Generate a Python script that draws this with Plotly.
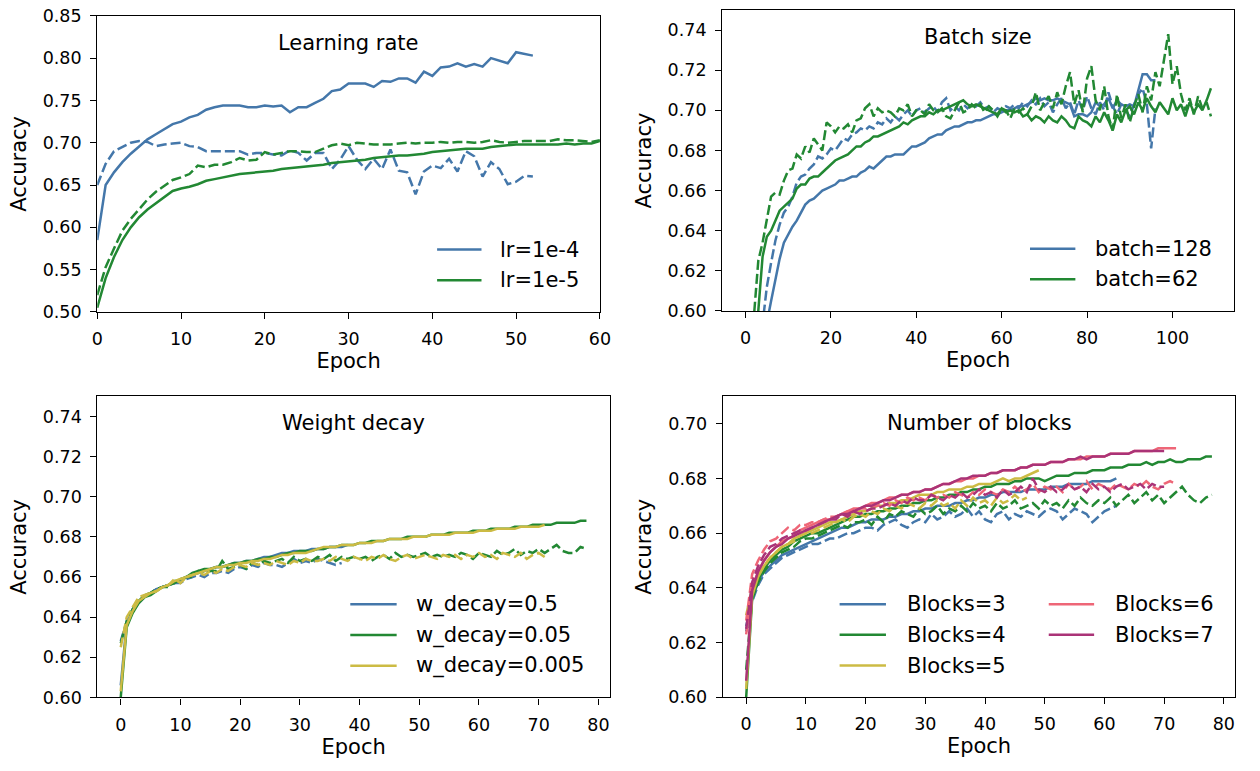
import plotly.graph_objects as go

# ---------------- colours (Paul Tol "bright") ----------------
BLUE, GREEN, YELLOW, PINK, PURPLE = "#4477AA", "#228833", "#CCBB44", "#EE6677", "#AA3377"

# ---------------- Learning rate panel ----------------
lr_names = ["lr=1e-4", "lr=1e-5"]
lr_xticks = [0, 10, 20, 30, 40, 50, 60]
lr_yticks = [0.50, 0.55, 0.60, 0.65, 0.70, 0.75, 0.80, 0.85]
lr4_train = [0.585, 0.650, 0.665, 0.677, 0.687, 0.696, 0.704, 0.710, 0.716, 0.722,
             0.725, 0.730, 0.733, 0.739, 0.742, 0.744, 0.744, 0.744, 0.742, 0.742,
             0.744, 0.743, 0.744, 0.736, 0.742, 0.742, 0.747, 0.752, 0.761, 0.763,
             0.770, 0.770, 0.770, 0.766, 0.773, 0.772, 0.776, 0.776, 0.771, 0.784,
             0.779, 0.789, 0.790, 0.794, 0.790, 0.793, 0.790, 0.800, 0.797, 0.794,
             0.807, 0.805, 0.803]
lr4_val = [0.650, 0.675, 0.690, 0.695, 0.700, 0.702, 0.701, 0.696, 0.698, 0.699,
           0.700, 0.696, 0.695, 0.690, 0.690, 0.690, 0.690, 0.690, 0.686, 0.688,
           0.688, 0.686, 0.685, 0.691, 0.688, 0.679, 0.688, 0.688, 0.669, 0.680,
           0.696, 0.680, 0.669, 0.681, 0.669, 0.692, 0.667, 0.665, 0.639, 0.666,
           0.673, 0.670, 0.681, 0.666, 0.690, 0.684, 0.660, 0.677, 0.669, 0.651,
           0.654, 0.661, 0.660]
lr5_train = [0.505, 0.540, 0.565, 0.585, 0.600, 0.612, 0.621, 0.628, 0.636, 0.643,
             0.646, 0.648, 0.651, 0.655, 0.657, 0.659, 0.661, 0.663, 0.664, 0.665,
             0.666, 0.667, 0.669, 0.670, 0.671, 0.672, 0.673, 0.674, 0.676, 0.677,
             0.678, 0.679, 0.680, 0.682, 0.683, 0.684, 0.685, 0.685, 0.686, 0.687,
             0.689, 0.690, 0.691, 0.692, 0.693, 0.693, 0.693, 0.695, 0.696, 0.697,
             0.698, 0.698, 0.698, 0.698, 0.698, 0.698, 0.699, 0.698, 0.699, 0.699,
             0.702]
lr5_val = [0.520, 0.553, 0.575, 0.596, 0.610, 0.622, 0.633, 0.642, 0.649, 0.656,
           0.659, 0.663, 0.673, 0.671, 0.674, 0.674, 0.677, 0.682, 0.679, 0.680,
           0.689, 0.686, 0.688, 0.690, 0.690, 0.689, 0.689, 0.693, 0.697, 0.699,
           0.697, 0.700, 0.699, 0.698, 0.698, 0.698, 0.699, 0.700, 0.699, 0.700,
           0.700, 0.701, 0.700, 0.701, 0.701, 0.700, 0.701, 0.703, 0.701, 0.700,
           0.701, 0.702, 0.702, 0.702, 0.702, 0.704, 0.703, 0.703, 0.702, 0.701,
           0.703]

# ---------------- Batch size panel ----------------
batch_names = ["batch=128", "batch=62"]
batch_xticks = [0, 20, 40, 60, 80, 100]
batch_yticks = [0.60, 0.62, 0.64, 0.66, 0.68, 0.70, 0.72, 0.74]
b128_train = [0.450, 0.490, 0.520, 0.550, 0.575, 0.594, 0.605, 0.616, 0.626, 0.634,
              0.638, 0.642, 0.645, 0.649, 0.653, 0.655, 0.656, 0.658, 0.660, 0.661,
              0.662, 0.663, 0.665, 0.665, 0.666, 0.667, 0.667, 0.669, 0.670, 0.672,
              0.671, 0.673, 0.675, 0.677, 0.677, 0.678, 0.678, 0.678, 0.680, 0.682,
              0.682, 0.683, 0.684, 0.686, 0.687, 0.688, 0.688, 0.690, 0.691, 0.692,
              0.692, 0.693, 0.694, 0.694, 0.695, 0.695, 0.696, 0.697, 0.698, 0.698,
              0.699, 0.700, 0.700, 0.701, 0.702, 0.702, 0.703, 0.704, 0.706, 0.705,
              0.706, 0.705, 0.705, 0.706, 0.705, 0.704, 0.703, 0.697, 0.698, 0.698,
              0.697, 0.699, 0.704, 0.702, 0.703, 0.706, 0.701, 0.705, 0.703, 0.702,
              0.703, 0.702, 0.710, 0.718, 0.718, 0.715, 0.715]
b128_val = [0.480, 0.520, 0.550, 0.575, 0.595, 0.612, 0.624, 0.635, 0.643, 0.649,
            0.652, 0.657, 0.664, 0.667, 0.668, 0.671, 0.673, 0.677, 0.676, 0.678,
            0.681, 0.680, 0.683, 0.686, 0.685, 0.688, 0.689, 0.691, 0.690, 0.692,
            0.691, 0.694, 0.693, 0.696, 0.694, 0.697, 0.695, 0.698, 0.700, 0.697,
            0.700, 0.701, 0.699, 0.701, 0.702, 0.699, 0.704, 0.706, 0.700, 0.702,
            0.700, 0.703, 0.701, 0.703, 0.702, 0.704, 0.701, 0.702, 0.699, 0.701,
            0.700, 0.702, 0.701, 0.703, 0.701, 0.704, 0.702, 0.705, 0.703, 0.706,
            0.702, 0.704, 0.699, 0.703, 0.706, 0.701, 0.704, 0.698, 0.705, 0.700,
            0.707, 0.701, 0.698, 0.704, 0.700, 0.709, 0.702, 0.698, 0.703, 0.700,
            0.697, 0.703, 0.708, 0.711, 0.703, 0.681, 0.701]
b62_train = [0.500, 0.540, 0.575, 0.600, 0.627, 0.637, 0.640, 0.645, 0.650, 0.652,
             0.654, 0.656, 0.661, 0.663, 0.663, 0.666, 0.667, 0.667, 0.669, 0.671,
             0.673, 0.675, 0.676, 0.677, 0.678, 0.680, 0.682, 0.682, 0.684, 0.685,
             0.687, 0.687, 0.688, 0.689, 0.690, 0.691, 0.692, 0.694, 0.693, 0.695,
             0.696, 0.697, 0.697, 0.699, 0.698, 0.700, 0.700, 0.701, 0.702, 0.703,
             0.704, 0.705, 0.703, 0.702, 0.703, 0.702, 0.701, 0.700, 0.699, 0.698,
             0.701, 0.699, 0.700, 0.699, 0.700, 0.697, 0.698, 0.695, 0.697, 0.696,
             0.694, 0.697, 0.695, 0.694, 0.697, 0.695, 0.692, 0.691, 0.697, 0.695,
             0.694, 0.692, 0.697, 0.694, 0.699, 0.695, 0.690, 0.698, 0.694, 0.700,
             0.702, 0.698, 0.704, 0.700, 0.706, 0.702, 0.699, 0.704, 0.701, 0.698,
             0.706, 0.700, 0.703, 0.697, 0.704, 0.699, 0.703, 0.700, 0.705, 0.711]
b62_val = [0.530, 0.570, 0.598, 0.625, 0.634, 0.645, 0.657, 0.659, 0.658, 0.665,
           0.670, 0.671, 0.678, 0.676, 0.682, 0.679, 0.686, 0.683, 0.680, 0.694,
           0.692, 0.689, 0.692, 0.691, 0.693, 0.689, 0.695, 0.696, 0.701, 0.703,
           0.697, 0.701, 0.699, 0.700, 0.699, 0.697, 0.701, 0.700, 0.703, 0.697,
           0.700, 0.700, 0.698, 0.703, 0.700, 0.699, 0.701, 0.697, 0.696, 0.700,
           0.704, 0.699, 0.700, 0.703, 0.701, 0.703, 0.699, 0.702, 0.700, 0.697,
           0.701, 0.700, 0.696, 0.701, 0.699, 0.701, 0.698, 0.702, 0.709, 0.700,
           0.704, 0.707, 0.701, 0.709, 0.703, 0.712, 0.719, 0.703, 0.710, 0.699,
           0.716, 0.722, 0.705, 0.700, 0.712, 0.697, 0.690, 0.708, 0.696, 0.703,
           0.694, 0.702, 0.708, 0.699, 0.712, 0.705, 0.719, 0.712, 0.725, 0.738,
           0.713, 0.722, 0.708, 0.700, 0.706, 0.698, 0.707, 0.701, 0.704, 0.697]

# ---------------- Weight decay panel ----------------
wd_names = ["w_decay=0.5", "w_decay=0.05", "w_decay=0.005"]
wd_xticks = [0, 10, 20, 30, 40, 50, 60, 70, 80]
wd_yticks = [0.60, 0.62, 0.64, 0.66, 0.68, 0.70, 0.72, 0.74]
wd05_train = [0.606, 0.637, 0.643, 0.647, 0.650, 0.652, 0.654, 0.655, 0.656, 0.657,
              0.658, 0.660, 0.661, 0.662, 0.663, 0.664, 0.665, 0.665, 0.666, 0.667,
              0.667, 0.668, 0.668, 0.669, 0.670, 0.670, 0.671, 0.672, 0.672, 0.673,
              0.673, 0.673, 0.674, 0.674, 0.674, 0.675, 0.675, 0.675, 0.676]
wd05_val = [0.628, 0.638, 0.644, 0.648, 0.650, 0.652, 0.654, 0.655, 0.656, 0.657,
            0.657, 0.659, 0.660, 0.661, 0.660, 0.662, 0.662, 0.663, 0.662, 0.664,
            0.665, 0.664, 0.666, 0.665, 0.667, 0.666, 0.666, 0.665, 0.667, 0.669,
            0.667, 0.668, 0.667, 0.669, 0.668, 0.667, 0.666, 0.667]
wd005_train = [0.600, 0.635, 0.642, 0.647, 0.650, 0.651, 0.653, 0.655, 0.656, 0.657,
               0.659, 0.660, 0.662, 0.663, 0.664, 0.664, 0.665, 0.665, 0.666, 0.667,
               0.667, 0.668, 0.668, 0.669, 0.669, 0.670, 0.670, 0.671, 0.672, 0.672,
               0.673, 0.673, 0.673, 0.674, 0.674, 0.675, 0.675, 0.676, 0.676, 0.676,
               0.677, 0.677, 0.678, 0.678, 0.678, 0.679, 0.679, 0.679, 0.680, 0.680,
               0.680, 0.680, 0.681, 0.681, 0.681, 0.682, 0.682, 0.682, 0.682, 0.683,
               0.683, 0.683, 0.684, 0.684, 0.684, 0.684, 0.685, 0.685, 0.685, 0.686,
               0.686, 0.686, 0.686, 0.687, 0.687, 0.687, 0.687, 0.688, 0.688]
wd005_val = [0.627, 0.638, 0.644, 0.648, 0.651, 0.652, 0.654, 0.655, 0.655, 0.658,
             0.658, 0.660, 0.660, 0.663, 0.662, 0.663, 0.663, 0.668, 0.664, 0.665,
             0.666, 0.664, 0.667, 0.666, 0.668, 0.667, 0.668, 0.669, 0.667, 0.670,
             0.668, 0.669, 0.668, 0.670, 0.669, 0.671, 0.668, 0.670, 0.669, 0.670,
             0.669, 0.670, 0.668, 0.670, 0.671, 0.669, 0.672, 0.670, 0.671, 0.670,
             0.671, 0.672, 0.670, 0.671, 0.670, 0.671, 0.670, 0.672, 0.671, 0.669,
             0.672, 0.671, 0.670, 0.673, 0.671, 0.672, 0.674, 0.671, 0.673, 0.672,
             0.674, 0.672, 0.674, 0.676, 0.673, 0.672, 0.672, 0.675, 0.674]
wd0005_train = [0.603, 0.636, 0.643, 0.648, 0.650, 0.652, 0.653, 0.655, 0.656, 0.658,
                0.659, 0.660, 0.661, 0.662, 0.663, 0.664, 0.665, 0.665, 0.666, 0.666,
                0.667, 0.667, 0.668, 0.668, 0.669, 0.669, 0.670, 0.671, 0.671, 0.672,
                0.672, 0.672, 0.673, 0.674, 0.675, 0.675, 0.675, 0.676, 0.676, 0.676,
                0.677, 0.677, 0.677, 0.678, 0.678, 0.679, 0.679, 0.679, 0.679, 0.680,
                0.680, 0.680, 0.681, 0.681, 0.681, 0.681, 0.682, 0.682, 0.682, 0.682,
                0.683, 0.683, 0.683, 0.684, 0.684, 0.684, 0.684, 0.685, 0.685, 0.685,
                0.685, 0.686]
wd0005_val = [0.625, 0.640, 0.645, 0.650, 0.651, 0.652, 0.653, 0.655, 0.656, 0.659,
              0.657, 0.660, 0.661, 0.662, 0.661, 0.663, 0.662, 0.664, 0.663, 0.665,
              0.666, 0.665, 0.667, 0.666, 0.667, 0.666, 0.668, 0.667, 0.666, 0.668,
              0.667, 0.669, 0.668, 0.668, 0.669, 0.668, 0.670, 0.669, 0.668, 0.670,
              0.669, 0.668, 0.670, 0.669, 0.671, 0.669, 0.668, 0.670, 0.671, 0.669,
              0.670, 0.671, 0.670, 0.669, 0.671, 0.670, 0.671, 0.669, 0.671, 0.670,
              0.672, 0.670, 0.671, 0.669, 0.672, 0.671, 0.670, 0.672, 0.669, 0.671,
              0.672, 0.670]

# ---------------- Number of blocks panel ----------------
blk_names = ["Blocks=3", "Blocks=4", "Blocks=5", "Blocks=6", "Blocks=7"]
blk_xticks = [0, 10, 20, 30, 40, 50, 60, 70, 80]
blk_yticks = [0.60, 0.62, 0.64, 0.66, 0.68, 0.70]
blk3_train = [0.624, 0.636, 0.642, 0.646, 0.648, 0.650, 0.652, 0.653, 0.654, 0.655,
              0.656, 0.657, 0.658, 0.659, 0.660, 0.661, 0.662, 0.662, 0.663, 0.664,
              0.664, 0.665, 0.665, 0.665, 0.666, 0.666, 0.667, 0.667, 0.668, 0.668,
              0.669, 0.669, 0.670, 0.670, 0.670, 0.671, 0.671, 0.672, 0.672, 0.673,
              0.673, 0.674, 0.674, 0.675, 0.675, 0.675, 0.675, 0.676, 0.676, 0.676,
              0.676, 0.677, 0.677, 0.677, 0.678, 0.678, 0.678, 0.678, 0.679, 0.679,
              0.679, 0.679, 0.680]
blk3_val = [0.626, 0.635, 0.641, 0.645, 0.647, 0.649, 0.651, 0.652, 0.653, 0.654,
            0.655, 0.656, 0.656, 0.657, 0.658, 0.658, 0.659, 0.660, 0.660, 0.661,
            0.662, 0.662, 0.661, 0.663, 0.664, 0.665, 0.663, 0.662, 0.664, 0.665,
            0.664, 0.667, 0.665, 0.666, 0.668, 0.666, 0.667, 0.669, 0.666, 0.668,
            0.665, 0.664, 0.667, 0.668, 0.665, 0.667, 0.666, 0.668, 0.667, 0.666,
            0.668, 0.669, 0.668, 0.665, 0.667, 0.669, 0.668, 0.667, 0.664, 0.666,
            0.668, 0.669, 0.670]
blk4_train = [0.600, 0.636, 0.643, 0.647, 0.650, 0.652, 0.654, 0.655, 0.657, 0.658,
              0.659, 0.660, 0.660, 0.661, 0.662, 0.663, 0.664, 0.665, 0.666, 0.666,
              0.667, 0.667, 0.668, 0.668, 0.669, 0.669, 0.670, 0.670, 0.671, 0.671,
              0.672, 0.672, 0.673, 0.673, 0.674, 0.674, 0.675, 0.675, 0.676, 0.676,
              0.677, 0.677, 0.678, 0.678, 0.678, 0.679, 0.679, 0.680, 0.680, 0.680,
              0.679, 0.680, 0.681, 0.681, 0.681, 0.682, 0.682, 0.682, 0.683, 0.683,
              0.683, 0.684, 0.684, 0.684, 0.685, 0.685, 0.685, 0.686, 0.685, 0.686,
              0.686, 0.687, 0.686, 0.686, 0.687, 0.687, 0.687, 0.688, 0.688]
blk4_val = [0.610, 0.636, 0.642, 0.646, 0.649, 0.651, 0.653, 0.654, 0.655, 0.657,
            0.658, 0.658, 0.659, 0.660, 0.661, 0.662, 0.663, 0.662, 0.664, 0.664,
            0.665, 0.663, 0.666, 0.664, 0.667, 0.666, 0.668, 0.667, 0.666, 0.669,
            0.667, 0.668, 0.670, 0.667, 0.669, 0.668, 0.670, 0.668, 0.671, 0.669,
            0.670, 0.668, 0.671, 0.669, 0.670, 0.672, 0.669, 0.670, 0.671, 0.669,
            0.672, 0.670, 0.671, 0.669, 0.672, 0.670, 0.673, 0.671, 0.670, 0.672,
            0.671, 0.673, 0.670, 0.672, 0.674, 0.671, 0.673, 0.675, 0.672, 0.674,
            0.671, 0.673, 0.675, 0.677, 0.674, 0.672, 0.671, 0.673, 0.674]
blk5_train = [0.603, 0.637, 0.644, 0.648, 0.651, 0.653, 0.655, 0.656, 0.658, 0.659,
              0.660, 0.661, 0.662, 0.663, 0.664, 0.664, 0.665, 0.666, 0.667, 0.668,
              0.668, 0.669, 0.670, 0.670, 0.671, 0.671, 0.672, 0.672, 0.673, 0.674,
              0.674, 0.674, 0.675, 0.675, 0.676, 0.676, 0.676, 0.677, 0.677, 0.678,
              0.678, 0.678, 0.679, 0.680, 0.679, 0.680, 0.680, 0.681, 0.682, 0.683]
blk5_val = [0.630, 0.640, 0.645, 0.648, 0.651, 0.653, 0.655, 0.656, 0.657, 0.659,
            0.660, 0.660, 0.661, 0.662, 0.663, 0.664, 0.665, 0.664, 0.666, 0.667,
            0.666, 0.668, 0.667, 0.669, 0.668, 0.670, 0.669, 0.671, 0.670, 0.669,
            0.671, 0.670, 0.672, 0.670, 0.671, 0.669, 0.672, 0.670, 0.673, 0.671,
            0.672, 0.670, 0.673, 0.671, 0.672, 0.674, 0.672, 0.673]
blk6_train = [0.623, 0.640, 0.646, 0.650, 0.653, 0.655, 0.657, 0.658, 0.659, 0.661,
              0.662, 0.663, 0.664, 0.665, 0.665, 0.666, 0.667, 0.668, 0.669, 0.669,
              0.670, 0.671, 0.671, 0.672, 0.673, 0.673, 0.674, 0.674, 0.675, 0.675,
              0.676, 0.676, 0.677, 0.678, 0.678, 0.679, 0.679, 0.680, 0.680, 0.681,
              0.681, 0.682, 0.682, 0.683, 0.683, 0.683, 0.684, 0.684, 0.685, 0.685,
              0.685, 0.686, 0.686, 0.686, 0.687, 0.687, 0.687, 0.688, 0.688, 0.688,
              0.688, 0.689, 0.689, 0.689, 0.689, 0.690, 0.690, 0.690, 0.690, 0.691,
              0.691, 0.691, 0.691]
blk6_val = [0.628, 0.645, 0.650, 0.654, 0.657, 0.658, 0.660, 0.662, 0.661, 0.663,
            0.663, 0.664, 0.664, 0.665, 0.666, 0.666, 0.667, 0.668, 0.668, 0.669,
            0.669, 0.670, 0.670, 0.671, 0.670, 0.672, 0.671, 0.673, 0.672, 0.673,
            0.672, 0.674, 0.673, 0.674, 0.673, 0.675, 0.674, 0.673, 0.675, 0.674,
            0.676, 0.675, 0.674, 0.676, 0.675, 0.677, 0.675, 0.676, 0.678, 0.675,
            0.677, 0.676, 0.677, 0.675, 0.678, 0.676, 0.677, 0.679, 0.676, 0.678,
            0.677, 0.676, 0.678, 0.677, 0.676, 0.678, 0.677, 0.679, 0.677, 0.676,
            0.678, 0.679, 0.678]
blk7_train = [0.606, 0.639, 0.646, 0.650, 0.653, 0.655, 0.656, 0.658, 0.659, 0.660,
              0.661, 0.662, 0.663, 0.664, 0.665, 0.666, 0.667, 0.667, 0.668, 0.669,
              0.670, 0.670, 0.671, 0.672, 0.672, 0.673, 0.674, 0.674, 0.675, 0.675,
              0.676, 0.676, 0.677, 0.678, 0.678, 0.679, 0.680, 0.680, 0.681, 0.681,
              0.681, 0.682, 0.682, 0.683, 0.683, 0.683, 0.684, 0.684, 0.685, 0.685,
              0.685, 0.686, 0.686, 0.686, 0.687, 0.687, 0.688, 0.687, 0.688, 0.688,
              0.688, 0.689, 0.689, 0.689, 0.689, 0.690, 0.690, 0.690, 0.690, 0.690,
              0.690]
blk7_val = [0.625, 0.642, 0.648, 0.652, 0.655, 0.656, 0.658, 0.659, 0.660, 0.661,
            0.661, 0.662, 0.663, 0.664, 0.665, 0.665, 0.667, 0.666, 0.668, 0.667,
            0.668, 0.669, 0.669, 0.670, 0.671, 0.670, 0.672, 0.671, 0.673, 0.672,
            0.672, 0.674, 0.673, 0.672, 0.674, 0.673, 0.675, 0.673, 0.674, 0.676,
            0.674, 0.675, 0.673, 0.676, 0.674, 0.675, 0.677, 0.675, 0.680, 0.676,
            0.675, 0.677, 0.675, 0.676, 0.678, 0.676, 0.677, 0.675, 0.678, 0.676,
            0.677, 0.675, 0.677, 0.678, 0.676, 0.677, 0.678, 0.676, 0.678, 0.677,
            0.677]

# ---------------- panel definitions ----------------
W, H = 1260, 771
FONT = "DejaVu Sans"
TICK_SIZE = 17.5
LABEL_SIZE = 21
LW = 2.5
DASH = "10px,4px"

panels = [
    dict(title="Learning rate", px=(92.5, 602), py=(6, 310), xr=[0, 60], yr=[0.5, 0.85],
         xt=lr_xticks, yt=lr_yticks,
         series=[(lr4_train, lr4_val, BLUE), (lr5_train, lr5_val, GREEN)],
         legend=[[(lr_names[0], BLUE), (lr_names[1], GREEN)]],
         leg_cols=[(437, 482, 499)]),
    dict(title="Batch size", px=(726, 1245), py=(0, 309), xr=[-5.45, 114.45], yr=[0.6, 0.75],
         xt=batch_xticks, yt=batch_yticks,
         series=[(b128_train, b128_val, BLUE), (b62_train, b62_val, GREEN)],
         legend=[[(batch_names[0], BLUE), (batch_names[1], GREEN)]],
         leg_cols=[(1038, 1084, 1102)]),
    dict(title="Weight decay", px=(92.7, 612), py=(396.7, 705.7), xr=[-3.9, 81.9], yr=[0.6, 0.75],
         xt=wd_xticks, yt=wd_yticks,
         series=[(wd05_train, wd05_val, BLUE), (wd005_train, wd005_val, GREEN),
                 (wd0005_train, wd0005_val, YELLOW)],
         legend=[[(wd_names[0], BLUE), (wd_names[1], GREEN), (wd_names[2], YELLOW)]],
         leg_cols=[(349, 396, 414)]),
    dict(title="Number of blocks", px=(726.7, 1246), py=(396.7, 705.5), xr=[-3.9, 81.9], yr=[0.6, 0.71],
         xt=blk_xticks, yt=blk_yticks,
         series=[(blk3_train, blk3_val, BLUE), (blk4_train, blk4_val, GREEN),
                 (blk5_train, blk5_val, YELLOW), (blk6_train, blk6_val, PINK),
                 (blk7_train, blk7_val, PURPLE)],
         legend=[[(blk_names[0], BLUE), (blk_names[1], GREEN), (blk_names[2], YELLOW)],
                 [(blk_names[3], PINK), (blk_names[4], PURPLE)]],
         leg_cols=[(845, 892, 911), (1057, 1103, 1122)]),
]

ROW_GAP = 31.5
LAST_ROW_OFFSET = 32.5
EPS = 1e-6

fig = go.Figure()
layout = dict(
    width=W, height=H, margin=dict(l=0, r=0, t=0, b=0),
    paper_bgcolor="white", plot_bgcolor="white",
    font=dict(family=FONT, color="black"),
    showlegend=False, annotations=[], shapes=[],
)

for i, p in enumerate(panels, start=1):
    sfx = "" if i == 1 else str(i)
    for train, val, col in p["series"]:
        fig.add_trace(go.Scatter(x=list(range(len(train))), y=train, mode="lines",
                                 line=dict(color=col, width=LW),
                                 xaxis="x" + sfx, yaxis="y" + sfx, hoverinfo="skip"))
        fig.add_trace(go.Scatter(x=list(range(len(val))), y=val, mode="lines",
                                 line=dict(color=col, width=LW, dash=DASH),
                                 xaxis="x" + sfx, yaxis="y" + sfx, hoverinfo="skip"))
    x0, x1 = p["px"]
    y0, y1 = p["py"]
    common = dict(showline=True, mirror=True, linecolor="black", linewidth=1.3,
                  ticks="outside", ticklen=6, tickwidth=1.3, tickcolor="black",
                  showgrid=False, zeroline=False, tickmode="array",
                  ticklabeloverflow="allow",
                  tickfont=dict(family=FONT, size=TICK_SIZE, color="black"))
    layout["xaxis" + sfx] = dict(common, domain=[x0 / W, x1 / W],
                                 range=[p["xr"][0] - EPS, p["xr"][1] + EPS],
                                 anchor="y" + sfx, tickvals=p["xt"],
                                 ticktext=[str(v) for v in p["xt"]],
                                 ticklabelstandoff=5,
                                 title=dict(text="Epoch", standoff=3,
                                            font=dict(family=FONT, size=LABEL_SIZE, color="black")))
    layout["yaxis" + sfx] = dict(common, domain=[1 - y1 / H, 1 - y0 / H],
                                 range=[p["yr"][0] - EPS, p["yr"][1] + EPS],
                                 anchor="x" + sfx, tickvals=p["yt"],
                                 ticktext=["%.2f" % v for v in p["yt"]],
                                 ticklabelstandoff=5,
                                 title=dict(text="Accuracy", standoff=10,
                                            font=dict(family=FONT, size=LABEL_SIZE, color="black")))
    # panel title inside the axes
    layout["annotations"].append(dict(
        text=p["title"], xref="paper", yref="paper",
        x=(x0 + x1) / 2 / W, y=1 - y0 / H, yshift=-27,
        xanchor="center", yanchor="middle", showarrow=False,
        font=dict(family=FONT, size=LABEL_SIZE, color="black")))
    # legend (lower right, no frame)
    nrows = max(len(c) for c in p["legend"])
    for col_items, (lx0, lx1, tx) in zip(p["legend"], p["leg_cols"]):
        for r, (name, colr) in enumerate(col_items):
            yy = y1 - LAST_ROW_OFFSET - (nrows - 1 - r) * ROW_GAP
            layout["shapes"].append(dict(
                type="line", xref="paper", yref="paper",
                x0=lx0 / W, x1=lx1 / W, y0=1 - yy / H, y1=1 - yy / H,
                line=dict(color=colr, width=LW)))
            layout["annotations"].append(dict(
                text=name, xref="paper", yref="paper", x=tx / W, y=1 - yy / H,
                xanchor="left", yanchor="middle", showarrow=False,
                font=dict(family=FONT, size=LABEL_SIZE, color="black")))

fig.update_layout(**layout)
fig.write_html("out.html")
